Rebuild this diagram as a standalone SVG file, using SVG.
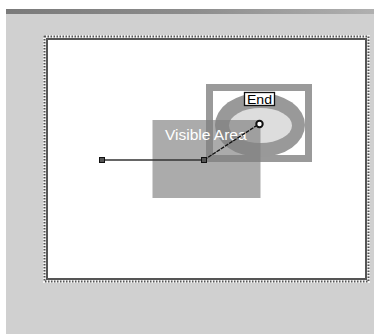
<svg xmlns="http://www.w3.org/2000/svg" width="374" height="334" viewBox="0 0 374 334">
<style>
.handle{fill:#555;stroke:#111;stroke-width:1}
.lbl{font-family:"Liberation Sans",Arial,sans-serif}
</style>
<defs>
<linearGradient id="bar" x1="0" x2="1" y1="0" y2="0">
<stop offset="0" stop-color="#7a7a7a"/>
<stop offset="0.5" stop-color="#8c8c8c"/>
<stop offset="1" stop-color="#b0b0b0"/>
</linearGradient>
</defs>
<rect x="0" y="0" width="374" height="334" fill="#ffffff"/>
<rect x="6" y="14" width="368" height="320" fill="#d0d0d0"/>
<rect x="6" y="9" width="368" height="5" fill="url(#bar)"/>
<g id="canvas">
<rect x="44.5" y="36.5" width="324" height="245" fill="#ffffff" stroke="#f2f2f2" stroke-width="3"/>
<rect x="44.5" y="36.5" width="324" height="245" fill="none" stroke="#555" stroke-width="2" stroke-dasharray="1.5,1.5"/>
<rect x="47" y="39" width="319" height="240" fill="#ffffff" stroke="#555" stroke-width="2"/>
</g>
<g id="end-node">
<rect x="209.5" y="87.5" width="99" height="71" fill="#ffffff" stroke="#9a9a9a" stroke-width="7"/>
<ellipse cx="260" cy="125" rx="45" ry="32" fill="#999999"/>
<ellipse cx="260.5" cy="125.5" rx="31.5" ry="17.5" fill="#dddddd"/>
<rect x="244.5" y="92.5" width="30" height="13" fill="#ffffff" stroke="#111" stroke-width="1.3"/>
<text class="lbl" x="247" y="103.5" font-size="13" textLength="25" lengthAdjust="spacingAndGlyphs" fill="#000">End</text>
</g>
<g id="visible-area">
<rect x="152.5" y="120" width="108" height="78" fill="#808080" fill-opacity="0.66"/>
<text class="lbl" x="165" y="140" font-size="15.5" fill="#ffffff">Visible Area</text>
</g>
<g id="connectors">
<line x1="102" y1="160" x2="204" y2="160" stroke="#333" stroke-width="1.5"/>
<line x1="204" y1="160" x2="259" y2="124" stroke="#111" stroke-width="1.3" stroke-dasharray="4,1"/>
</g>
<g id="handles">
<rect class="handle" x="99.5" y="157.5" width="5" height="5"/>
<rect class="handle" x="201.5" y="157.5" width="5" height="5"/>
<circle cx="259.5" cy="124" r="3.2" fill="#ffffff" stroke="#111" stroke-width="2"/>
</g>
</svg>
